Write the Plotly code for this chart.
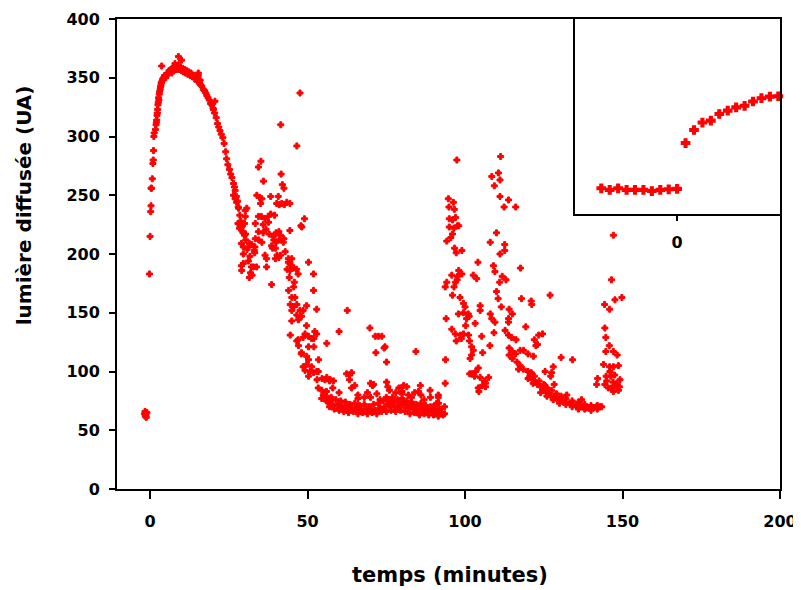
import plotly.graph_objects as go

# (temps en minutes, lumière diffusée en UA), segment by segment
seg_baseline = [(-1.8, 64), (-1.6, 66), (-1.5, 62), (-1.3, 63), (-1.2, 61), (-1.0, 65)]

seg_peak = [
    (-0.2, 183), (0.0, 215), (0.2, 236), (0.3, 241), (0.3, 256), (0.5, 256), (0.7, 264),
    (0.9, 277), (1.0, 280), (1.1, 288), (1.2, 300), (1.3, 303), (1.7, 306), (1.9, 310),
    (2.0, 312), (2.1, 314), (2.2, 318), (2.3, 320), (2.4, 323), (2.5, 327), (2.6, 329),
    (2.7, 333), (2.8, 331), (2.9, 336), (3.0, 338), (3.2, 340), (3.3, 342), (3.4, 343),
    (3.5, 345), (3.6, 346), (3.7, 360), (3.8, 347), (4.0, 349), (4.3, 350), (4.6, 352),
    (5.0, 350), (5.3, 352), (5.6, 354), (6.0, 356), (6.3, 355), (6.6, 357), (6.9, 354),
    (7.0, 358), (7.3, 356), (7.6, 359), (7.9, 362), (8.0, 357), (8.3, 360), (8.5, 357),
    (8.6, 358), (9.0, 368), (9.0, 361), (9.3, 357), (9.6, 359), (10.0, 365), (10.0, 356),
    (10.3, 358), (10.6, 355), (11.0, 357), (11.1, 355), (11.3, 354), (11.6, 356),
    (12.0, 353), (12.3, 355), (12.7, 352), (13.0, 354), (13.4, 351), (13.8, 352),
    (14.2, 349), (14.6, 350), (15.0, 347), (15.3, 354), (15.3, 352), (15.7, 346),
    (15.9, 348), (16.0, 344), (16.4, 343), (16.9, 340), (17.3, 339), (17.7, 337),
    (18.0, 335), (18.4, 333), (18.8, 331), (19.2, 328), (19.6, 327), (20.0, 324),
    (20.1, 323), (20.6, 330), (20.5, 320), (21.0, 316), (21.4, 311), (21.8, 308),
    (22.2, 305), (22.6, 302), (23.1, 299), (23.5, 294), (24.0, 287), (24.3, 281),
    (24.7, 276), (25.2, 272), (25.6, 268), (26.0, 265), (26.5, 260), (26.8, 257),
    (27.0, 254), (27.4, 249), (27.8, 245), (28.1, 239), (28.5, 233), (28.8, 228),
    (29.1, 223), (29.5, 219), (30.0, 216), (30.4, 212), (30.8, 204), (29.6, 192),
]

seg_cloud1 = [
    (35.2, 279), (34.4, 274), (36.0, 262), (41.5, 310), (41.6, 268), (42.0, 259),
    (42.5, 256), (46.6, 292), (47.6, 337), (33.9, 250), (34.8, 248), (35.5, 247),
    (38.3, 249), (40.7, 249), (35.1, 243), (40.2, 243), (41.0, 242), (41.8, 243),
    (42.6, 242), (43.4, 244), (44.4, 243), (30.7, 239), (30.2, 237), (30.2, 232),
    (34.4, 232), (35.3, 232), (36.5, 230), (37.5, 232), (38.3, 234), (39.5, 233),
    (27.9, 226), (28.4, 222), (29.2, 224), (30.0, 226), (33.4, 226), (35.9, 225),
    (37.6, 227), (29.5, 218), (30.3, 217), (34.4, 219), (35.9, 218), (36.8, 221),
    (37.8, 217), (39.1, 215), (40.0, 218), (40.9, 219), (41.4, 216), (42.5, 213),
    (40.0, 210), (41.0, 212), (39.3, 212), (44.4, 220), (47.9, 224), (49.0, 230),
    (48.2, 223), (33.4, 213), (34.5, 212), (35.5, 210), (31.5, 209), (29.0, 209),
    (39.8, 205), (40.3, 199), (41.4, 199), (40.9, 197), (39.8, 196), (38.6, 207),
    (38.9, 205), (29.6, 200), (33.2, 201), (36.5, 199), (37.0, 196), (42.3, 210),
    (42.9, 202), (43.9, 196), (44.4, 192), (45.5, 188), (45.0, 196), (29.0, 190),
    (32.2, 189), (33.8, 189), (37.0, 189), (43.5, 187), (50.3, 193), (27.0, 247),
    (27.5, 244), (26.5, 250), (28.0, 240), (32.8, 189), (33.1, 203), (29.6, 206),
    (31.2, 206), (32.3, 208), (33.3, 206), (31.7, 198), (31.2, 194), (29.1, 186),
    (31.9, 184), (32.4, 182), (31.5, 180), (38.6, 174), (43.9, 193), (45.0, 190),
    (44.4, 186), (46.5, 187), (47.0, 183), (44.2, 180), (45.8, 176), (51.9, 183),
    (45.6, 172), (44.0, 169), (45.0, 163), (46.0, 163), (46.6, 157), (45.6, 155),
    (51.9, 169), (44.5, 157), (45.0, 152), (47.6, 152), (48.6, 152), (49.7, 156),
    (48.1, 147), (52.9, 153), (46.6, 148), (47.1, 144), (45.0, 143), (49.7, 139),
    (52.3, 134), (52.9, 132), (51.3, 128), (49.2, 132), (46.6, 126), (44.5, 131),
    (56.1, 124), (60.0, 134), (62.6, 152), (69.8, 137), (71.5, 130), (72.5, 130),
    (74.3, 120), (71.7, 116), (75.1, 108), (84.4, 117), (73.6, 130), (74.6, 121),
]

seg_decay1 = [
    (47.1, 122), (48.1, 116), (49.7, 113), (50.3, 110), (49.7, 106), (48.6, 104),
    (49.2, 101), (50.8, 100), (51.9, 99), (52.9, 100), (50.3, 96), (53.4, 100),
    (51.3, 104), (53.5, 110), (52.0, 121), (50.3, 121), (48.0, 115), (47.0, 127),
    (48.6, 129), (50.3, 130), (52.0, 128), (56.1, 95), (57.2, 93), (58.2, 92),
    (53.0, 93), (54.6, 94), (55.5, 93), (57.0, 92), (62.4, 98), (63.4, 97), (64.0, 99),
    (63.3, 93), (65.0, 88), (64.0, 86), (70.6, 88), (70.0, 90), (71.0, 89), (75.1, 91),
    (80.5, 88), (85.8, 88), (75.5, 87), (81.5, 87), (85.2, 83), (88.9, 84), (91.5, 80),
    (91.5, 78), (91.6, 73), (91.6, 66), (91.0, 73), (89.9, 70), (53.4, 86), (54.5, 84),
    (56.0, 83), (58.0, 86), (60.0, 82), (55.0, 80), (54.5, 77), (56.0, 75), (57.3, 76),
    (78.0, 82), (80.0, 81), (82.0, 80), (84.0, 82), (70.0, 78), (73.0, 76), (75.0, 78),
    (77.0, 74), (66.0, 77), (68.0, 78),
]

seg_floor1 = [
    (56.0, 79), (57.5, 78), (59.0, 76), (60.5, 75), (62.0, 74), (63.5, 72), (65.0, 73),
    (66.5, 71), (68.0, 72), (69.5, 70), (71.0, 72), (72.5, 73), (74.0, 75), (75.5, 76),
    (77.0, 78), (78.5, 76), (80.0, 77), (81.5, 75), (83.0, 74), (84.5, 72), (86.0, 73),
    (87.5, 71), (89.0, 70), (90.5, 69), (92.0, 68),
    (56.5, 74), (58.0, 72), (59.5, 71), (61.0, 69), (62.5, 68), (64.0, 69), (65.5, 67),
    (67.0, 68), (68.5, 66), (70.0, 68), (71.5, 67), (73.0, 69), (74.5, 70), (76.0, 71),
    (77.5, 70), (79.0, 72), (80.5, 71), (82.0, 69), (83.5, 68), (85.0, 69), (86.5, 67),
    (88.0, 66), (89.5, 66), (91.0, 65), (92.5, 65),
    (57.0, 70), (58.5, 68), (60.0, 67), (61.5, 66), (63.0, 65), (64.5, 66), (66.0, 64),
    (67.5, 65), (69.0, 64), (70.5, 65), (72.0, 64), (73.5, 66), (75.0, 66), (76.5, 67),
    (78.0, 66), (79.5, 67), (81.0, 66), (82.5, 64), (84.0, 65), (85.5, 63), (87.0, 64),
    (88.5, 63), (90.0, 63), (91.5, 62), (93.0, 63),
    (60.2, 72), (61.8, 70), (63.2, 70), (65.8, 70), (67.2, 66), (68.8, 68), (70.8, 66),
    (72.8, 67), (74.2, 68), (75.8, 73), (77.2, 74), (78.8, 69), (80.2, 74), (81.8, 72),
    (83.2, 71), (84.8, 66), (86.2, 70), (87.8, 68), (89.2, 68), (90.8, 67), (92.2, 64),
    (93.5, 64), (66.0, 80), (69.0, 82), (72.0, 81), (76.0, 84), (79.0, 86), (80.0, 83),
    (83.0, 78), (87.0, 76), (89.0, 78), (86.0, 80),
]

seg_cloud2 = [
    (93.5, 70), (93.7, 90), (93.8, 110), (94.0, 145), (93.7, 172), (94.2, 176),
    (94.2, 211), (94.7, 247), (94.9, 240), (95.0, 230), (95.0, 223), (95.8, 136),
    (96.0, 217), (96.3, 244), (96.6, 238), (96.0, 229), (97.0, 231), (95.5, 214),
    (96.5, 222), (97.4, 280), (97.6, 224), (98.0, 224), (97.0, 176), (95.8, 182),
    (96.7, 205), (99.0, 203), (97.2, 201), (98.0, 186), (97.6, 181), (97.5, 178),
    (99.0, 183), (96.5, 172), (102.6, 182), (103.7, 179), (104.1, 193), (96.0, 165),
    (98.4, 163), (99.5, 158), (100.0, 155), (104.8, 156), (104.8, 152), (97.9, 149),
    (99.5, 150), (101.0, 149), (100.5, 145), (101.3, 147), (103.2, 141), (100.2, 139),
    (96.9, 132), (98.5, 131), (98.8, 128), (99.5, 132), (101.1, 131), (101.4, 126),
    (105.3, 130), (97.2, 126), (102.1, 121), (102.6, 118), (102.1, 114), (105.6, 116),
    (101.6, 111), (104.2, 103), (102.1, 98), (104.8, 95), (107.5, 95), (106.5, 87),
    (104.4, 83), (103.4, 100), (101.5, 98), (103.0, 96), (106.2, 92), (105.5, 88),
    (104.2, 86), (106.5, 90),
]

seg_cloud3 = [
    (111.3, 283), (110.6, 269), (108.5, 266), (111.1, 263), (109.3, 258), (111.1, 249),
    (113.8, 246), (112.4, 240), (116.1, 240), (110.0, 218), (108.0, 210), (112.6, 208),
    (112.6, 203), (111.1, 200), (109.0, 190), (109.5, 185), (111.8, 181), (117.6, 188),
    (111.0, 176), (113.0, 178), (110.0, 168), (110.5, 162), (111.5, 155), (114.0, 153),
    (115.0, 149), (113.8, 145), (117.9, 162), (121.0, 160), (108.0, 149), (108.5, 145),
    (109.5, 142), (113.8, 142), (119.3, 138), (109.2, 133), (112.7, 135), (113.8, 131),
    (114.8, 129), (116.2, 127), (107.9, 122), (114.0, 120), (115.0, 117), (116.0, 115),
    (117.5, 118), (118.6, 118), (120.0, 115), (114.0, 114), (115.0, 111), (116.5, 108),
    (117.5, 105), (117.0, 102), (118.5, 102), (120.0, 100), (121.0, 98), (120.0, 94),
    (121.6, 90), (121.2, 157), (127.0, 165), (124.6, 132), (122.0, 127), (123.0, 123),
    (122.5, 122), (121.7, 113), (130.5, 112), (134.1, 110), (128.0, 104), (127.5, 99),
    (127.2, 96), (128.3, 89), (132.3, 80), (137.0, 76), (123.4, 131), (125.4, 100),
    (125.4, 88),
]

seg_decay3 = [
    (120.6, 96), (121.5, 93), (122.3, 91), (123.0, 89), (124.0, 87), (124.9, 84),
    (125.8, 82), (126.5, 81), (127.3, 79), (128.2, 78), (129.1, 77), (130.0, 76),
    (131.0, 75), (132.0, 74), (133.3, 73), (134.3, 72), (135.3, 71), (136.5, 71),
    (137.6, 70), (138.6, 69), (139.7, 69), (140.7, 69), (141.8, 70), (142.9, 70),
    (143.4, 70), (121.0, 99), (122.0, 96), (123.5, 92), (125.0, 89), (126.0, 86),
    (127.5, 84), (129.0, 81), (130.5, 79), (132.0, 77), (134.0, 75), (136.0, 74),
    (138.0, 72), (140.0, 71), (142.0, 71), (124.0, 82), (126.0, 79), (128.0, 76),
    (130.0, 73), (132.0, 72), (134.0, 70), (136.0, 68), (138.0, 68), (140.0, 67),
    (142.0, 68),
]

seg_rise4 = [
    (147.1, 216), (146.5, 178), (147.6, 161), (149.8, 163), (144.3, 157), (145.9, 153),
    (144.4, 137), (144.7, 129), (145.8, 122), (144.7, 117), (147.1, 117), (148.3, 114),
    (145.9, 104), (147.1, 104), (148.7, 105), (144.8, 96), (146.3, 96), (144.4, 89),
    (141.8, 89), (145.5, 86), (147.1, 83), (148.7, 84), (149.2, 93), (148.2, 90),
    (147.0, 91), (146.0, 100), (142.1, 94), (148.0, 88), (149.0, 87), (145.0, 92),
    (146.5, 86), (147.5, 97), (144.0, 106),
]

# inset: zoom around t = 0 (no y scale shown)
inset_t = [-9, -8, -7, -6, -5, -4, -3, -2, -1, 0, 1, 2, 3, 4, 5, 6, 7, 8, 9, 10, 11, 12]
inset_l = [13.2, 12.4, 13.2, 12.4, 12.4, 12.4, 11.8, 12.4, 12.7, 12.9,
           36.4, 43.1, 46.9, 47.9, 51.3, 53.0, 54.7, 55.5, 57.7, 59.4, 60.2, 60.4]

x_ticks = [0, 50, 100, 150, 200]
y_ticks = [0, 50, 100, 150, 200, 250, 300, 350, 400]

all_pts = (seg_baseline + seg_peak + seg_cloud1 + seg_decay1 + seg_floor1
           + seg_cloud2 + seg_cloud3 + seg_decay3 + seg_rise4)
temps = [p[0] for p in all_pts]
lumiere = [p[1] for p in all_pts]

RED = "#FF0000"
TICKFONT = dict(family="DejaVu Sans", size=16, color="black", weight="bold")

fig = go.Figure()
fig.add_trace(go.Scatter(
    x=temps, y=lumiere, mode="markers",
    marker=dict(symbol="cross", size=5, color=RED, line=dict(width=1, color=RED)),
    xaxis="x", yaxis="y", showlegend=False, cliponaxis=False,
))
fig.add_trace(go.Scatter(
    x=inset_t, y=inset_l, mode="markers",
    marker=dict(symbol="cross", size=7, color=RED, line=dict(width=1.3, color=RED)),
    xaxis="x2", yaxis="y2", showlegend=False, cliponaxis=False,
))

# the page body adds an 8px offset, so the figure is 8px smaller than the window
fig.update_layout(
    width=793, height=582,
    margin=dict(l=109, r=21, t=11, b=101, autoexpand=False),
    paper_bgcolor="white", plot_bgcolor="white",
    xaxis=dict(
        domain=[0, 1], range=[-10.5, 200], tickvals=x_ticks, automargin=False,
        ticks="outside", ticklen=8, tickwidth=1.5, tickcolor="black",
        showline=True, linecolor="black", linewidth=2, mirror=True,
        showgrid=False, zeroline=False, tickfont=TICKFONT, ticklabelstandoff=9,
    ),
    yaxis=dict(
        domain=[0, 1], range=[0, 400], tickvals=y_ticks, automargin=False,
        ticks="outside", ticklen=6, tickwidth=1.5, tickcolor="black",
        showline=True, linecolor="black", linewidth=2, mirror=True,
        showgrid=False, zeroline=False, tickfont=TICKFONT, ticklabelstandoff=6,
    ),
    xaxis2=dict(
        domain=[0.691, 1], range=[-12.1, 12.2], anchor="y2", tickvals=[0],
        automargin=False,
        ticks="outside", ticklen=5, tickwidth=1.5, tickcolor="black",
        showline=True, linecolor="black", linewidth=1.5, mirror=True,
        showgrid=False, zeroline=False, tickfont=TICKFONT, ticklabelstandoff=8,
    ),
    yaxis2=dict(
        domain=[0.585, 1], range=[0, 100], anchor="x2", automargin=False,
        showticklabels=False, ticks="",
        showline=True, linecolor="black", linewidth=1.5, mirror=True,
        showgrid=False, zeroline=False,
    ),
    annotations=[
        dict(text="lumière diffusée (UA)", xref="paper", yref="paper",
             x=-0.140, y=0.604, textangle=-90, showarrow=False,
             xanchor="center", yanchor="middle",
             font=dict(family="DejaVu Sans", size=20, color="black", weight="bold")),
        dict(text="temps (minutes)", xref="paper", yref="paper",
             x=0.502, y=-0.183, showarrow=False,
             xanchor="center", yanchor="middle",
             font=dict(family="DejaVu Sans", size=21, color="black", weight="bold")),
    ],
)

fig.write_html("out.html")
